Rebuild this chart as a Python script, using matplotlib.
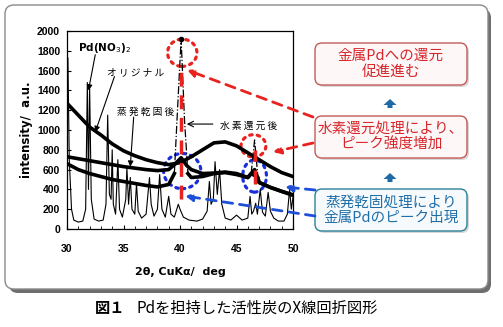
import numpy as np
import matplotlib.pyplot as plt
from matplotlib.patches import FancyBboxPatch, Ellipse, FancyArrow

plt.rcParams['font.family'] = ['Noto Sans CJK JP', 'DejaVu Sans']

# --- data ---
pd_x = [30.0, 30.08, 30.2, 30.4, 30.6, 31.0, 31.4, 31.65, 31.8, 31.9, 32.0, 32.15, 32.4, 32.8,
        33.2, 33.45, 33.6, 33.75, 33.9, 34.0, 34.1, 34.3, 34.5, 34.65, 34.9, 35.2, 35.3, 35.45,
        35.6, 35.75, 36.0, 36.15, 36.3, 36.6, 37.0, 37.3, 37.45, 37.7, 38.0, 38.2, 38.4, 38.7,
        39.0, 39.2, 39.5, 39.85, 40.0, 40.3, 40.8, 41.5, 42.0, 42.4, 42.6, 42.75, 42.95, 43.1,
        43.3, 43.5, 43.7, 44.0, 44.5, 45.0, 45.5, 46.0, 46.2, 46.35, 46.5, 46.7, 46.85, 47.1,
        47.3, 47.55, 47.8, 48.0, 48.3, 48.7, 49.2, 49.5, 49.7, 49.85, 50.0]
pd_y = [1200, 1730, 700, 200, 90, 70, 80, 200, 1480, 400, 1450, 300, 100, 80,
        90, 250, 1150, 350, 300, 800, 250, 150, 700, 200, 120, 300, 620, 250,
        520, 200, 150, 460, 180, 110, 150, 520, 250, 130, 200, 550, 200, 120,
        330, 150, 120, 250, 200, 120, 90, 80, 100, 180, 480, 250, 300, 680,
        350, 600, 250, 110, 90, 140, 90, 110, 330, 150, 180, 260, 150, 400,
        170, 130, 370, 180, 110, 80, 80, 150, 400, 200, 320]

bg_x = [30, 31, 32, 33, 34, 35, 36, 37, 38, 39, 40, 41, 42, 43, 44, 45, 46, 47, 48, 49, 50]
original = [1270, 1150, 1030, 950, 860, 790, 740, 700, 670, 650, 670, 730, 800, 870, 880,
            840, 770, 700, 630, 570, 530]

evap_x = [30, 31, 32, 33, 34, 35, 36, 37, 38, 39, 39.6, 40.1, 40.6, 41, 42, 43, 44, 45, 46,
          46.6, 47, 48, 49, 50]
evap = [730, 710, 690, 670, 650, 630, 615, 600, 590, 600, 660, 720, 640, 600, 560, 565, 575,
        560, 520, 600, 470, 420, 380, 345]

h2_x = [30, 31, 32, 33, 34, 35, 36, 37, 38, 39, 39.5, 40.7, 41, 42, 43, 44, 45, 46, 46.3,
        46.9, 47, 48, 49, 50]
h2 = [660, 600, 560, 530, 500, 480, 460, 440, 425, 450, 560, 560, 520, 530, 560, 570, 550,
      520, 560, 520, 470, 420, 380, 340]
h2_peak1_x = [39.5, 39.8, 40.1, 40.4, 40.7]
h2_peak1_y = [560, 1250, 1920, 1100, 560]
h2_peak2_x = [46.3, 46.6, 46.9]
h2_peak2_y = [560, 900, 520]

W, H = 503, 327
fig = plt.figure(figsize=(W / 100, H / 100), dpi=100)

# background: panel + caption (pixel coords)
bg = fig.add_axes([0, 0, 1, 1], zorder=0)
bg.set_xlim(0, W)
bg.set_ylim(H, 0)
bg.axis('off')
bg.add_patch(FancyBboxPatch((9, 9), 482, 284, boxstyle='round,pad=0,rounding_size=9',
                            fc='#6e6e6e', ec='none'))
bg.add_patch(FancyBboxPatch((5, 5), 483, 284, boxstyle='round,pad=0,rounding_size=9',
                            fc='white', ec='#8a8a8a', lw=1))
bg.text(95, 308, '図１', fontsize=11, fontweight='bold', va='center', ha='left')
bg.text(137, 308, 'Pdを担持した活性炭のX線回折図形', fontsize=11, va='center', ha='left')

# plot axes
ax = fig.add_axes([67 / W, 1 - 229 / H, 226 / W, 198 / H], zorder=1)
ax.plot(pd_x, pd_y, color='black', lw=0.8)
ax.plot(bg_x, original, color='black', lw=2.6)
ax.plot(evap_x, evap, color='black', lw=2.6)
ax.plot(h2_x[:11], h2[:11], color='black', lw=2.6)
ax.plot(h2_x[11:], h2[11:], color='black', lw=2.6)
ax.plot(h2_peak1_x, h2_peak1_y, color='black', lw=0.9, ls='-.',
        marker='o', ms=3, markevery=[2])
ax.plot(h2_peak2_x, h2_peak2_y, color='black', lw=0.9, ls='-.')

# highlighted peaks
red = '#e8231f'
blue = '#1b2fd8'
ax.plot([40.1, 40.1], [300, 1650], color=red, lw=2.5, ls=(0, (4, 2.5)))
ax.plot([46.6, 46.6], [450, 800], color=red, lw=2.5, ls=(0, (4, 2.5)))
for cx, cy, w, h, c in [(40.2, 1780, 2.6, 275, red), (46.5, 840, 2.2, 225, red),
                        (40.2, 585, 3.3, 355, blue), (46.6, 535, 2.1, 325, blue)]:
    ax.add_patch(Ellipse((cx, cy), w, h, fill=False, ec=c, lw=2.3,
                         ls=(0, (0.8, 1.6)), capstyle='round'))

ax.set_xlim(30, 50)
ax.set_ylim(0, 2000)
ax.set_xticks([30, 35, 40, 45, 50])
ax.set_xticks(np.arange(30, 51, 1), minor=True)
ax.set_yticks(np.arange(0, 2001, 200))
ax.tick_params(direction='in', length=3, width=0.8, labelsize=7.5, pad=5)
ax.tick_params(which='minor', direction='in', length=2, width=0.6)
for lab in ax.get_xticklabels() + ax.get_yticklabels():
    lab.set_fontweight('bold')
    lab.set_family('Liberation Sans')
ax.xaxis.set_tick_params(pad=11)
for s in ax.spines.values():
    s.set_linewidth(0.9)
ax.set_xlabel('2θ, CuKα/  deg', fontsize=8, fontweight='bold', family='DejaVu Sans', labelpad=9)
ax.set_ylabel('intensity/  a.u.', fontsize=8.5, fontweight='bold', family='DejaVu Sans', labelpad=3)

# curve labels
ax.text(30.97, 1828, 'Pd(NO$_3$)$_2$', fontsize=7.5, fontweight='bold', family='DejaVu Sans',
        va='center')
ax.text(33.54, 1586, 'オ リ ジ ナ ル', fontsize=7, va='center')
ax.text(34.42, 1182, '蒸 発 乾 固 後', fontsize=7, va='center')
ax.text(43.54, 1040, '水 素 還 元 後', fontsize=7, va='center')
ap = dict(arrowstyle='-|>', color='black', lw=0.8, mutation_scale=8, shrinkA=0, shrinkB=0)
ax.annotate('', xy=(31.9, 1400), xytext=(32.5, 1760), arrowprops=ap)
ax.annotate('', xy=(32.5, 980), xytext=(34.2, 1540), arrowprops=ap)
ax.annotate('', xy=(35.6, 630), xytext=(35.9, 1130), arrowprops=ap)
ax.annotate('', xy=(40.6, 1060), xytext=(42.9, 1060),
            arrowprops=dict(arrowstyle='->', color='black', lw=0.8, shrinkA=0, shrinkB=0))

# overlay: explanation boxes and arrows (pixel coords)
ov = fig.add_axes([0, 0, 1, 1], zorder=2)
ov.set_xlim(0, W)
ov.set_ylim(H, 0)
ov.axis('off')
ov.patch.set_alpha(0)

boxes = [(43, '金属Pdへの還元\n促進進む', '#d7262b', '#c45a5a', '#fdf7f7'),
         (116, '水素還元処理により、\nピーク強度増加', '#d7262b', '#c45a5a', '#fdf7f7'),
         (189, '蒸発乾固処理により\n金属Pdのピーク出現', '#1f6ea8', '#2c8196', '#f6fafc')]
for top, txt, tc, ec, fc in boxes:
    ov.add_patch(FancyBboxPatch((317, top + 2), 152, 42, boxstyle='round,pad=0,rounding_size=7',
                                fc='#d8d8d8', ec='none'))
    ov.add_patch(FancyBboxPatch((315, top), 152, 42, boxstyle='round,pad=0,rounding_size=7',
                                fc=fc, ec=ec, lw=1))
    ov.text(391, top + 21, txt, fontsize=10.5, color=tc, ha='center', va='center',
            linespacing=1.15)

for y0 in [108, 182]:
    ov.add_patch(FancyArrow(390, y0, 0, -9, width=5, head_width=13, head_length=6,
                            length_includes_head=True, color='#1f6aa5', ec='none'))

def dash_arrow(start, tip, color):
    ov.annotate('', xy=tip, xytext=start,
                arrowprops=dict(arrowstyle='-|>', color=color, lw=2, ls=(0, (3.5, 2.5)),
                                mutation_scale=11, shrinkA=0, shrinkB=0))

dash_arrow((313, 117), (187, 70), red)
dash_arrow((313, 143), (273, 152), red)
dash_arrow((315, 190), (285, 187), '#1f4fd8')
dash_arrow((315, 216), (185, 196), '#1f4fd8')

fig.savefig('out.png', dpi=100)
